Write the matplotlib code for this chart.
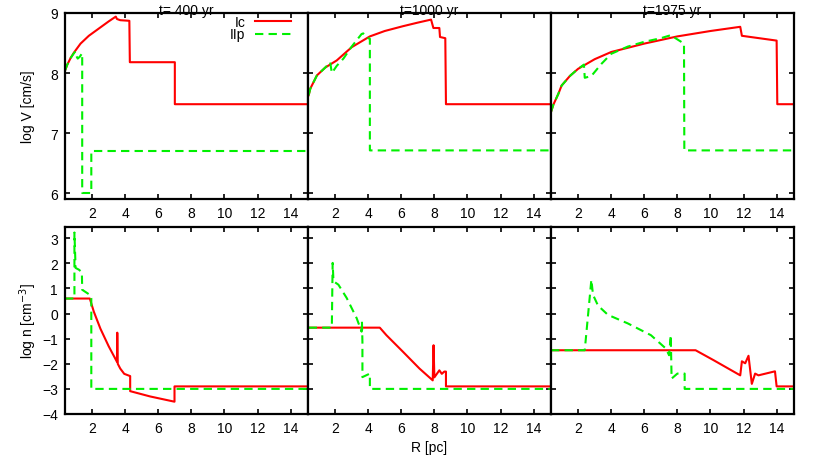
import matplotlib.pyplot as plt

plt.rcParams['font.family'] = ['Liberation Sans', 'DejaVu Sans']
plt.rcParams['font.size'] = 10

titles = ['t= 400 yr', 't=1000 yr', 't=1975 yr']

# ---- velocity, t = 400 yr
r_v_ic_400 = [0.36, 0.5, 0.7, 0.9, 1.3, 1.8, 2.5, 3.0, 3.43, 3.5, 3.7, 4.25, 4.28, 7.0, 7.0, 15.05]
v_ic_400 = [8.04, 8.14, 8.25, 8.34, 8.49, 8.62, 8.76, 8.86, 8.94, 8.90, 8.88, 8.87, 8.18, 8.18, 7.48, 7.48]
r_v_ii_400 = [0.36, 0.5, 0.7, 0.9, 0.99, 1.05, 1.13, 1.25, 1.40, 1.40, 1.95, 1.95, 15.05]
v_ii_400 = [8.04, 8.14, 8.25, 8.33, 8.36, 8.28, 8.24, 8.27, 8.33, 6.0, 6.0, 6.70, 6.70]

# ---- velocity, t = 1000 yr
r_v_ic_1000 = [0.40, 0.5, 0.9, 1.4, 2.1, 3.0, 4.1, 5.0, 6.1, 7.0, 7.80, 7.94, 8.30, 8.34, 8.66, 8.70, 15.05]
v_ic_1000 = [7.63, 7.74, 7.96, 8.09, 8.21, 8.43, 8.61, 8.70, 8.78, 8.84, 8.89, 8.75, 8.75, 8.60, 8.58, 7.48, 7.48]
r_v_ii_1000 = [0.40, 0.5, 0.9, 1.4, 1.7, 1.8, 2.1, 2.5, 3.0, 3.6, 3.7, 4.0, 4.1, 4.1, 15.05]
v_ii_1000 = [7.63, 7.74, 7.96, 8.09, 8.18, 8.00, 8.12, 8.24, 8.44, 8.65, 8.66, 8.58, 8.57, 6.71, 6.71]

# ---- velocity, t = 1975 yr
r_v_ic_1975 = [0.36, 0.5, 0.8, 1.0, 1.5, 2.0, 3.0, 4.0, 6.0, 8.0, 10.0, 11.8, 11.9, 14.0, 14.04, 15.05]
v_ic_1975 = [7.35, 7.47, 7.65, 7.79, 7.95, 8.07, 8.23, 8.35, 8.49, 8.61, 8.70, 8.77, 8.62, 8.54, 7.48, 7.48]
r_v_ii_1975 = [0.36, 0.5, 0.8, 1.0, 1.5, 2.0, 2.35, 2.4, 2.8, 3.4, 4.0, 5.0, 6.0, 7.0, 7.6, 8.4, 8.42, 15.05]
v_ii_1975 = [7.35, 7.47, 7.65, 7.79, 7.95, 8.07, 8.14, 7.92, 7.95, 8.15, 8.32, 8.44, 8.52, 8.58, 8.63, 8.49, 6.71, 6.71]

# ---- density, t = 400 yr
r_n_ic_400 = [0.36, 1.86, 2.1, 2.5, 3.0, 3.5, 3.52, 3.55, 3.7, 3.94, 4.30, 4.30, 5.5, 6.98, 6.98, 15.05]
n_ic_400 = [0.6, 0.6, 0.08, -0.6, -1.3, -1.92, -0.76, -2.0, -2.19, -2.4, -2.49, -3.09, -3.3, -3.51, -2.90, -2.90]
r_n_ii_400 = [0.36, 0.93, 0.93, 1.0, 1.2, 1.38, 1.40, 1.90, 1.95, 1.95, 15.05]
n_ii_400 = [0.6, 0.6, 3.23, 1.82, 1.75, 1.65, 0.95, 0.73, 0.6, -3.0, -3.0]

# ---- density, t = 1000 yr
r_n_ic_1000 = [0.40, 4.70, 5.1, 6.1, 7.1, 7.90, 7.95, 8.0, 8.3, 8.45, 8.6, 8.70, 8.70, 15.05]
n_ic_1000 = [-0.56, -0.56, -0.86, -1.52, -2.19, -2.66, -1.26, -2.54, -2.26, -2.4, -2.31, -2.31, -2.90, -2.90]
r_n_ii_1000 = [0.40, 1.80, 1.85, 1.9, 2.2, 2.7, 3.3, 3.6, 3.62, 3.65, 3.65, 4.1, 4.1, 15.05]
n_ii_1000 = [-0.56, -0.56, 2.02, 1.29, 1.15, 0.62, -0.18, -0.72, -0.3, -1.12, -2.53, -2.39, -3.0, -3.0]

# ---- density, t = 1975 yr
r_n_ic_1975 = [0.36, 9.1, 10.2, 11.8, 11.9, 12.1, 12.3, 12.5, 12.7, 12.9, 13.9, 14.0, 15.05]
n_ic_1975 = [-1.46, -1.46, -1.86, -2.46, -1.9, -1.98, -1.68, -2.8, -2.39, -2.46, -2.30, -2.9, -2.9]
r_n_ii_1975 = [0.36, 2.4, 2.8, 2.9, 3.2, 3.8, 5.0, 6.4, 7.3, 7.5, 7.6, 7.65, 8.0, 8.44, 8.44, 15.05]
n_ii_1975 = [-1.46, -1.46, 1.35, 0.75, 0.32, -0.05, -0.39, -0.86, -1.39, -1.66, -0.86, -2.59, -2.39, -2.39, -3.0, -3.0]

v_data = [(r_v_ic_400, v_ic_400, r_v_ii_400, v_ii_400),
          (r_v_ic_1000, v_ic_1000, r_v_ii_1000, v_ii_1000),
          (r_v_ic_1975, v_ic_1975, r_v_ii_1975, v_ii_1975)]
n_data = [(r_n_ic_400, n_ic_400, r_n_ii_400, n_ii_400),
          (r_n_ic_1000, n_ic_1000, r_n_ii_1000, n_ii_1000),
          (r_n_ic_1975, n_ic_1975, r_n_ii_1975, n_ii_1975)]

fig = plt.figure(figsize=(8.14, 4.56), dpi=100)

left, right = 65 / 814, 794 / 814
w = (right - left) / 3
rows = [(1 - 200 / 456, (200 - 14) / 456), (1 - 415 / 456, (415 - 228) / 456)]

red = '#ff0000'
green = '#00f000'


def style(ax):
    for s in ax.spines.values():
        s.set_linewidth(1.6)
    ax.tick_params(direction='in', top=True, right=True, length=3.5, width=1.2,
                   labelsize=10, pad=5)
    ax.set_xlim(0.36, 15.05)
    ax.set_xticks(range(2, 15, 2))


for row, (data, ylim, yticks) in enumerate([(v_data, (5.9, 9.0), [6, 7, 8, 9]),
                                             (n_data, (-4, 3.45), range(-4, 4))]):
    b, h = rows[row]
    for i, (r1, y1, r2, y2) in enumerate(data):
        ax = fig.add_axes([left + i * w, b, w, h])
        ax.plot(r1, y1, color=red, lw=1.5, label='Ic')
        ax.plot(r2, y2, color=green, lw=1.5, dashes=(4, 2.5), label='IIp')
        style(ax)
        ax.set_ylim(*ylim)
        ax.set_yticks(list(yticks))
        if i > 0:
            ax.set_yticklabels([])
        if row == 0:
            ax.set_title(titles[i], fontsize=10, pad=-1)
            if i == 0:
                ax.set_ylabel('log V [cm/s]')
                ax.yaxis.set_label_coords(-0.125, 0.5)
                ax.legend(loc='upper right', bbox_to_anchor=(0.93, 0.99), frameon=False,
                          markerfirst=False, handlelength=2.6, handletextpad=0.7,
                          labelspacing=-0.1, borderpad=0, borderaxespad=0, fontsize=10)
        else:
            if i == 0:
                ax.set_ylabel('log n [cm$^{-3}$]')
                ax.yaxis.set_label_coords(-0.105, 0.5)
            if i == 1:
                ax.set_xlabel('R [pc]', labelpad=4)

fig.savefig('out.png', dpi=100)
